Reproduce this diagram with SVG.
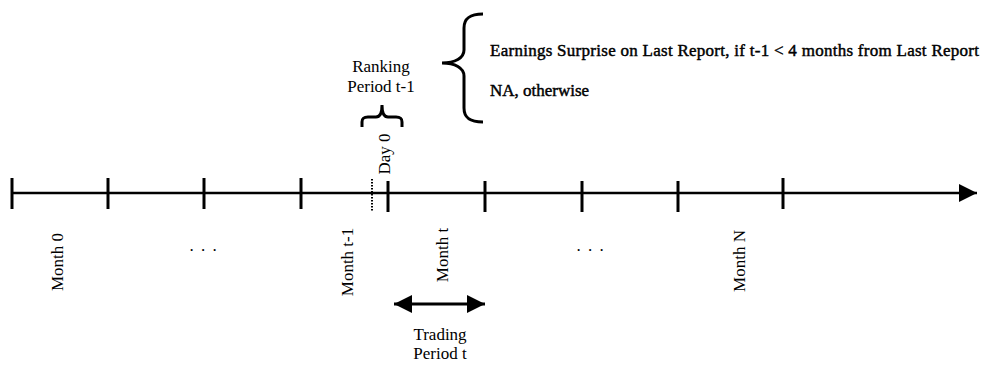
<svg xmlns="http://www.w3.org/2000/svg" width="983" height="365" viewBox="0 0 983 365">
<style>
text{font-family:"Liberation Serif","Times New Roman",serif;font-size:17px;fill:#000}
.b{font-size:17px;stroke:#000;stroke-width:0.45}
.m{text-anchor:middle}
.ln{stroke:#000;stroke-width:2.5;fill:none}
.tk{stroke:#000;stroke-width:3;fill:none}
.br{stroke:#000;stroke-width:3;fill:none;stroke-linecap:butt}
</style>
<defs>
<marker id="ah" viewBox="0 0 18 18" refX="18" refY="9" markerWidth="18" markerHeight="18" markerUnits="userSpaceOnUse" orient="auto-start-reverse">
<path d="M0,0 L18,9 L0,18 Z" fill="#000"/>
</marker>
</defs>
<g id="connectors">
<line id="timeline" class="ln" x1="12" y1="193" x2="977" y2="193" marker-end="url(#ah)"/>
<line id="trading-arrow" class="tk" x1="394" y1="304" x2="485" y2="304" marker-start="url(#ah)" marker-end="url(#ah)"/>
<line id="day0-dotted" x1="372" y1="179" x2="372" y2="212" stroke="#000" stroke-width="2" stroke-dasharray="1.5,1.5"/>
</g>
<g id="ticks">
<line class="tk" x1="12" y1="178" x2="12" y2="209"/>
<line class="tk" x1="108" y1="178" x2="108" y2="209"/>
<line class="tk" x1="204" y1="178" x2="204" y2="209"/>
<line class="tk" x1="301" y1="178" x2="301" y2="209"/>
<line class="tk" x1="388" y1="181" x2="388" y2="212"/>
<line class="tk" x1="485" y1="181" x2="485" y2="212"/>
<line class="tk" x1="582" y1="181" x2="582" y2="212"/>
<line class="tk" x1="678" y1="181" x2="678" y2="212"/>
<line class="tk" x1="783" y1="178" x2="783" y2="209"/>
</g>
<g id="month0"><text class="m" transform="translate(63,262) rotate(-90)">Month 0</text></g>
<g id="dots1"><text class="m" x="203" y="251" word-spacing="3">. . .</text></g>
<g id="month-t-1"><text class="m" transform="translate(353,262) rotate(-90)">Month t-1</text></g>
<g id="month-t"><text class="m" transform="translate(448,255) rotate(-90)">Month t</text></g>
<g id="dots2"><text class="m" x="590" y="251" word-spacing="3">. . .</text></g>
<g id="month-n"><text class="m" transform="translate(745,261) rotate(-90)">Month N</text></g>
<g id="day0"><text class="m" transform="translate(390,154) rotate(-90)">Day 0</text></g>
<g id="ranking-period">
<path class="br" d="M362,127 L362,122 C362,118 364,117 368,117 L376,117 C380,117 382,113 382,105 C382,113 384,117 388,117 L396,117 C400,117 402,118 402,122 L402,127"/>
<text class="m" x="381" y="72">Ranking</text>
<text class="m" x="381" y="92">Period t-1</text>
</g>
<g id="trading-period">
<text class="m" x="440" y="340">Trading</text>
<text class="m" x="440" y="359">Period t</text>
</g>
<g id="earnings-brace">
<path class="br" d="M483,14 C470,14 464,18 464,28 L464,50 C464,58 455,63 442,63 C455,63 464,68 464,76 L464,108 C464,118 470,122 483,122"/>
<text class="b" x="490" y="56" textLength="489">Earnings Surprise on Last Report, if  t-1 &lt; 4 months from Last Report</text>
<text class="b" x="490" y="96">NA, otherwise</text>
</g>
</svg>
